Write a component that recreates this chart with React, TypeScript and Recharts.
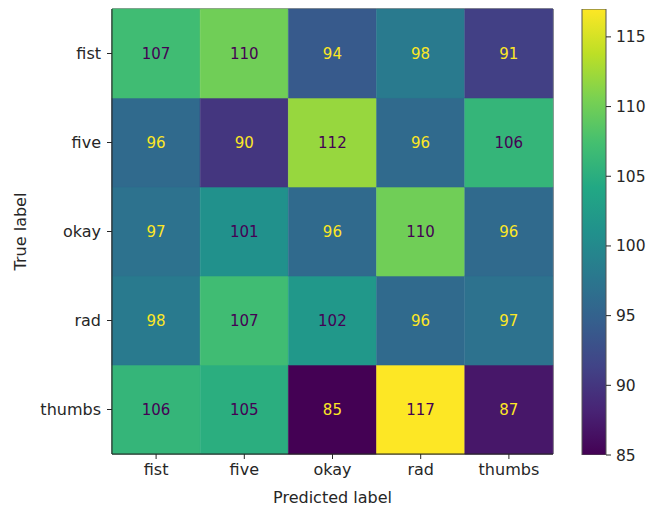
import { BarChart, Bar, XAxis, YAxis, Cell, LabelList, ReferenceArea, Label } from "recharts";

const predictedLabels = ["fist", "five", "okay", "rad", "thumbs"];
const trueLabels = ["fist", "five", "okay", "rad", "thumbs"];

// rows = true label, columns = predicted label
const fistRow = [107, 110, 94, 98, 91];
const fiveRow = [96, 90, 112, 96, 106];
const okayRow = [97, 101, 96, 110, 96];
const radRow = [98, 107, 102, 96, 97];
const thumbsRow = [106, 105, 85, 117, 87];
const matrix = [fistRow, fiveRow, okayRow, radRow, thumbsRow];

const colorbarTicks = [85, 90, 95, 100, 105, 110, 115];
const vMin = 85;
const vMax = 117;

const VIRIDIS = [
  "#440154", "#482475", "#414487", "#355f8d", "#2a788e", "#21918c",
  "#22a884", "#44bf70", "#7ad151", "#bddf26", "#fde725",
];

const hexToRgb = (h: string) => [1, 3, 5].map((i) => parseInt(h.slice(i, i + 2), 16));

function viridis(v: number) {
  const t = Math.min(1, Math.max(0, (v - vMin) / (vMax - vMin))) * (VIRIDIS.length - 1);
  const i = Math.min(Math.floor(t), VIRIDIS.length - 2);
  const f = t - i;
  const a = hexToRgb(VIRIDIS[i]);
  const b = hexToRgb(VIRIDIS[i + 1]);
  const c = a.map((x, k) => Math.round(x + (b[k] - x) * f));
  return `rgb(${c[0]},${c[1]},${c[2]})`;
}

const textColor = (v: number) => (v < (vMin + vMax) / 2 ? "#fde725" : "#440154");

const cellData = predictedLabels.map((p) => {
  const d: Record<string, string | number> = { pred: p };
  trueLabels.forEach((t) => (d[t] = 1));
  return d;
});

const colorbarData = [{ name: "cb", range: [vMin, vMax] }];

const font = "DejaVu Sans, sans-serif";
const ink = "#262626";
const tickStyle = { fill: ink, fontSize: 16, fontFamily: font };

export default function App() {
  // stack from the bottom: last true label first
  const stackOrder = [...trueLabels].reverse();
  return (
    <div style={{ position: "absolute", left: 0, top: 0, width: 659, height: 511, background: "#fff", fontFamily: font }}>
      <div style={{ position: "absolute", left: 0, top: 0 }}>
        <BarChart
          width={659}
          height={511}
          data={cellData}
          margin={{ top: 9, right: 106, bottom: 0, left: 0 }}
          barCategoryGap={0}
          barGap={0}
        >
          <XAxis
            dataKey="pred"
            height={57}
            tick={tickStyle}
            tickSize={5}
            tickMargin={5}
            tickLine={{ stroke: ink }}
            axisLine={{ stroke: ink }}
          >
            <Label value="Predicted label" position="insideBottom" offset={8} style={{ fill: ink, fontSize: 16, fontFamily: font }} />
          </XAxis>
          <YAxis
            type="number"
            domain={[0, 5]}
            ticks={[4.5, 3.5, 2.5, 1.5, 0.5]}
            tickFormatter={(v: number) => trueLabels[Math.round(4.5 - v)]}
            width={112}
            tick={tickStyle}
            tickSize={5}
            tickMargin={6}
            tickLine={{ stroke: ink }}
            axisLine={{ stroke: ink }}
          >
            <Label
              content={({ viewBox }: any) => {
                const cx = 20;
                const cy = viewBox.y + viewBox.height / 2;
                return (
                  <text
                    x={cx}
                    y={cy}
                    transform={`rotate(-90 ${cx} ${cy})`}
                    textAnchor="middle"
                    dominantBaseline="central"
                    fill={ink}
                    fontSize={16}
                    fontFamily={font}
                  >
                    True label
                  </text>
                );
              }}
            />
          </YAxis>
          {stackOrder.map((t) => {
            const r = trueLabels.indexOf(t);
            return (
              <Bar key={t} dataKey={t} stackId="cm" isAnimationActive={false}>
                {predictedLabels.map((p, j) => (
                  <Cell key={p} fill={viridis(matrix[r][j])} stroke={viridis(matrix[r][j])} strokeWidth={0.6} />
                ))}
                <LabelList
                  dataKey={t}
                  content={(props: any) => {
                    const { x, y, width, height, index } = props;
                    const v = matrix[r][index];
                    return (
                      <text
                        x={x + width / 2}
                        y={y + height / 2}
                        textAnchor="middle"
                        dominantBaseline="central"
                        fill={textColor(v)}
                        fontSize={15}
                        fontFamily={font}
                      >
                        {v}
                      </text>
                    );
                  }}
                />
              </Bar>
            );
          })}
          <ReferenceArea y1={0} y2={5} fill="none" stroke="#333" strokeWidth={1} ifOverflow="extendDomain" />
        </BarChart>
      </div>
      <div style={{ position: "absolute", left: 570, top: 0 }}>
        <BarChart
          width={89}
          height={511}
          data={colorbarData}
          margin={{ top: 9, right: 0, bottom: 56, left: 12 }}
          barCategoryGap={0}
        >
          <defs>
            <linearGradient id="cbGrad" x1="0" y1="1" x2="0" y2="0">
              {VIRIDIS.map((c, i) => (
                <stop key={c} offset={`${(i / (VIRIDIS.length - 1)) * 100}%`} stopColor={c} />
              ))}
            </linearGradient>
          </defs>
          <XAxis dataKey="name" hide />
          <YAxis
            orientation="right"
            type="number"
            domain={[vMin, vMax]}
            ticks={colorbarTicks}
            allowDataOverflow
            width={53}
            tick={{ ...tickStyle, fontSize: 15.5, textAnchor: "start" }}
            tickSize={5}
            tickMargin={5}
            tickLine={{ stroke: ink }}
            axisLine={false}
          />
          <Bar dataKey="range" fill="url(#cbGrad)" stroke="#555" strokeWidth={1} isAnimationActive={false} />
        </BarChart>
      </div>
    </div>
  );
}
